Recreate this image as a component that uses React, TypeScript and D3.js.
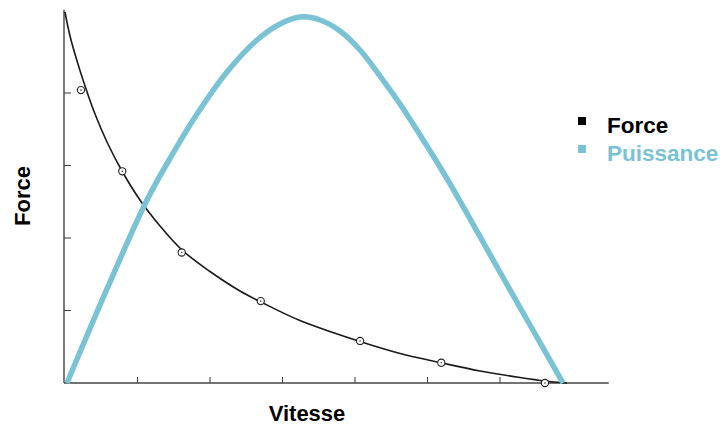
import React from "react";
import * as d3 from "d3";

// Force–velocity curve, velocity and force in axis units
const forceV = [0, 0.069, 0.166, 0.276, 0.414, 0.579, 0.786, 1.034, 1.31, 1.614, 2.0, 2.414, 2.717, 3.241, 4.069, 4.621, 5.186, 5.724, 6.276, 6.621, 6.924];
const forceF = [5.117, 4.786, 4.441, 4.097, 3.71, 3.324, 2.924, 2.524, 2.166, 1.834, 1.538, 1.269, 1.11, 0.862, 0.572, 0.407, 0.279, 0.166, 0.076, 0.028, 0];

// Measured points (circles)
const pointV = [0.22, 0.79, 1.61, 2.7, 4.07, 5.19, 6.62];
const pointF = [4.04, 2.92, 1.8, 1.13, 0.58, 0.28, 0.0];

// Power curve
const powerV = [0.028, 0.579, 1.131, 1.476, 1.821, 2.234, 2.648, 2.966, 3.241, 3.517, 3.793, 4.069, 4.345, 4.621, 4.897, 5.172, 5.448, 5.959, 6.414, 6.869];
const powerP = [0, 1.297, 2.524, 3.145, 3.71, 4.29, 4.731, 4.952, 5.048, 5.007, 4.855, 4.593, 4.234, 3.848, 3.421, 2.979, 2.51, 1.6, 0.8, 0];

const xTicks = [1, 2, 3, 4, 5, 6];
const yTicks = [1, 2, 3, 4];

const legendLabels = ["Force", "Puissance"];
const xLabel = "Vitesse";
const yLabel = "Force";

const W = 722;
const H = 427;
const BLUE = "#79c3d4";
const FONT = "'Liberation Sans', Arial, sans-serif";

export default function App() {
  const x = d3.scaleLinear().domain([0, 7.5]).range([65, 65 + 7.5 * 72.5]);
  const y = d3.scaleLinear().domain([0, 5.15]).range([383, 383 - 5.15 * 72.5]);

  const forceData = forceV.map((v, i) => [v, forceF[i]] as [number, number]);
  const powerData = powerV.map((v, i) => [v, powerP[i]] as [number, number]);

  const line = d3
    .line<[number, number]>()
    .x((d) => x(d[0]))
    .y((d) => y(d[1]))
    .curve(d3.curveCatmullRom.alpha(0.5));

  const axisColor = "#444";
  const x0 = x(0) - 1;

  return (
    <div style={{ position: "fixed", left: 0, top: 0 }}>
      <svg width={W} height={H} style={{ display: "block", background: "#fff" }}>
        {/* axes */}
        <line x1={x0} x2={x0} y1={y(5.15)} y2={y(0)} stroke={axisColor} strokeWidth={1.4} />
        <line x1={x0} x2={x(7.5)} y1={y(0)} y2={y(0)} stroke={axisColor} strokeWidth={1.4} />
        {xTicks.map((t) => (
          <line key={"xt" + t} x1={x(t)} x2={x(t)} y1={y(0)} y2={y(0) - 6} stroke={axisColor} strokeWidth={1.1} />
        ))}
        {yTicks.map((t) => (
          <line key={"yt" + t} x1={x0} x2={x0 + 7} y1={y(t)} y2={y(t)} stroke={axisColor} strokeWidth={1.1} />
        ))}

        {/* force curve */}
        <path d={line(forceData) || ""} fill="none" stroke="#1a1a1a" strokeWidth={1.6} />
        {pointV.map((v, i) => (
          <g key={"p" + i}>
            <circle cx={x(v)} cy={y(pointF[i])} r={3.6} fill="#fff" stroke="#222" strokeWidth={1.1} />
            <circle cx={x(v)} cy={y(pointF[i])} r={0.8} fill="#333" />
          </g>
        ))}

        {/* power curve */}
        <path d={line(powerData) || ""} fill="none" stroke={BLUE} strokeWidth={5.5} strokeLinecap="butt" />

        {/* axis labels */}
        <text x={307} y={421} textAnchor="middle" fontFamily={FONT} fontWeight="bold" fontSize={22} fill="#000">
          {xLabel}
        </text>
        <text
          transform="translate(30,196) rotate(-90)"
          textAnchor="middle"
          fontFamily={FONT}
          fontWeight="bold"
          fontSize={22}
          fill="#000"
        >
          {yLabel}
        </text>

        {/* legend */}
        {legendLabels.map((lab, i) => (
          <g key={lab}>
            <rect x={578} y={117 + i * 28} width={8} height={8} fill={i === 0 ? "#000" : BLUE} />
            <text x={607} y={133 + i * 28} fontFamily={FONT} fontWeight="bold" fontSize={22.5} fill={i === 0 ? "#000" : BLUE}>
              {lab}
            </text>
          </g>
        ))}
      </svg>
    </div>
  );
}
